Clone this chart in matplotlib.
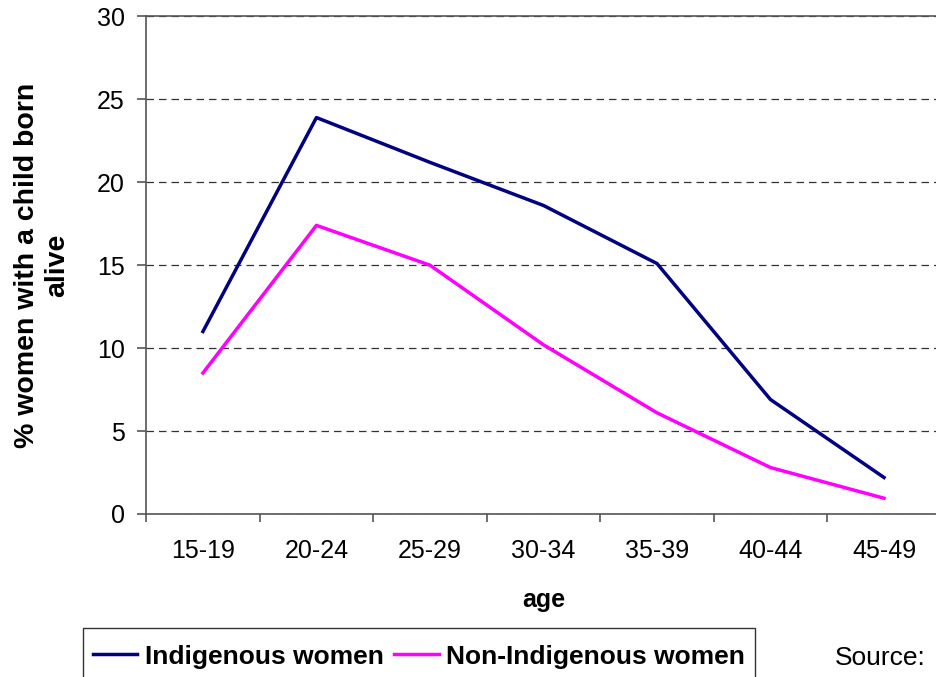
import numpy as np
import matplotlib.pyplot as plt
from matplotlib.patches import Rectangle

plt.rcParams['font.family'] = ['Liberation Sans', 'DejaVu Sans']

ages = ['15-19', '20-24', '25-29', '30-34', '35-39', '40-44', '45-49']
indigenous = [11.0, 23.9, 21.2, 18.6, 15.1, 6.9, 2.2]
non_indigenous = [8.5, 17.4, 15.0, 10.2, 6.1, 2.8, 0.95]

fig = plt.figure(figsize=(9.37, 6.77), dpi=100)
ax = fig.add_axes([0.156, 0.2408, 0.848, 0.735])

x = np.arange(len(ages))
ax.plot(x, indigenous, color='#000080', lw=2.5, label='Indigenous women')
ax.plot(x, non_indigenous, color='#FF00FF', lw=2.5, label='Non-Indigenous women')

ax.set_xlim(-0.5, len(ages) - 0.5)
ax.set_ylim(0, 30)
ax.set_yticks(range(0, 31, 5))
ax.yaxis.grid(True, linestyle=(0, (6, 4)), color='#333333', lw=0.9)
ax.set_axisbelow(True)

ax.set_xticks(x)
ax.set_xticklabels(ages)
ax.set_xticks(np.arange(-0.5, len(ages)), minor=True)
ax.tick_params(axis='x', which='major', length=0, pad=18, labelsize=18)
ax.tick_params(axis='x', which='minor', length=6, color='#555555', width=1.2)
ax.tick_params(axis='y', length=6.5, color='#555555', width=1.2, labelsize=18, pad=9)

for s in ['left', 'bottom', 'top']:
    ax.spines[s].set_color('#555555')
    ax.spines[s].set_linewidth(1.2)
ax.spines['right'].set_visible(False)

ax.set_xlabel('age', fontsize=18, fontweight='bold', labelpad=18)
ax.set_ylabel('% women with a child born\nalive', fontsize=20.5, fontweight='bold', labelpad=19)

# legend without frame, then a box drawn around it (top edge higher than text)
leg = fig.legend(loc='center left', bbox_to_anchor=(0.0886, 0.030), ncol=2,
                 prop={'weight': 'bold', 'size': 19}, frameon=False,
                 handlelength=1.67, columnspacing=0.4,
                 handletextpad=0.3, borderpad=0.38, borderaxespad=0)
fig.canvas.draw()
bb = leg.get_window_extent().transformed(fig.transFigure.inverted())
box_top = 0.0724
fig.patches.append(Rectangle((bb.x0, -0.05), bb.x1 - bb.x0, box_top + 0.05,
                             transform=fig.transFigure, fill=False,
                             edgecolor='#333333', lw=1.0))

fig.text(0.891, 0.017, 'Source:', fontsize=19)

fig.savefig('out.png', dpi=100)
